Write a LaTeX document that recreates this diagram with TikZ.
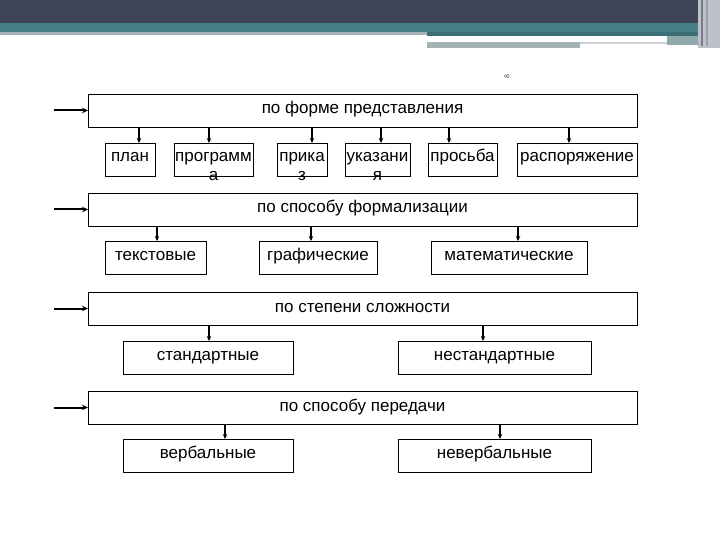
\documentclass[tikz,border=0pt]{standalone}
\usepackage{fontspec}
\setmainfont{Liberation Sans}
\usepackage{tikz}
\usetikzlibrary{arrows.meta, positioning, calc}
\definecolor{banddark}{RGB}{62, 69, 86}
\definecolor{bandteal}{RGB}{70, 129, 137}
\definecolor{bandline}{RGB}{163, 179, 182}
\definecolor{bandlight}{RGB}{190, 192, 202}

\newcommand{\wrapword}[2]{\begin{tabular}[t]{@{}c@{}}#1\\#2\end{tabular}}

\tikzset{
  headbox/.style={draw, line width=0.9pt, anchor=north west, inner sep=0pt, outer sep=0pt,
    minimum width=549pt, text height=20pt, text depth=13pt, font=\fontsize{17}{18.5}\selectfont},
  kindbox/.style={draw, line width=0.9pt, anchor=north west, inner sep=0pt, outer sep=0pt,
    text height=19pt, text depth=14.5pt, font=\fontsize{17}{18.5}\selectfont},
  feed/.style={line width=2pt, -{Stealth[length=6pt, width=5.5pt]}},
  drop/.style={line width=1.3pt, -{Stealth[length=5pt, width=4.5pt]}}
}

\begin{document}
\begin{tikzpicture}[x=1pt, y=-1pt]
  \useasboundingbox (0,0) rectangle (720,540);
  % Slide header band
  \fill[banddark] (0,0) rectangle (720,23);
  \fill[bandteal] (0,23) rectangle (720,32);
  \fill[bandline] (0,32) rectangle (427,35);
  \fill[bandteal!85!black] (427,32) rectangle (698,36);
  \fill[bandline] (427,42) rectangle (580,48);
  \fill[bandline!60] (580,42) rectangle (667,44);
  \fill[bandline!80!bandteal] (667,36) rectangle (698,45);
  \fill[bandlight] (698,0) rectangle (720,48);
  \fill[banddark!70] (701,0) rectangle (703,46);
  \fill[banddark!50] (706,0) rectangle (708,46);
  \node[rotate=90, font=\fontsize{7}{8}\selectfont, text=banddark] (slidenum) at (507,77) {8};

  % Form of presentation
  \node[headbox] (form) at (88,94) {по форме представления};
  \node[kindbox, minimum width=50pt] (plan) at (105,143) {план};
  \node[kindbox, minimum width=79pt] (prog) at (174,143) {\wrapword{программ}{а}};
  \node[kindbox, minimum width=50pt] (order) at (277,143) {\wrapword{прика}{з}};
  \node[kindbox, minimum width=65pt] (instr) at (345,143) {\wrapword{указани}{я}};
  \node[kindbox, minimum width=69pt] (plea) at (428,143) {просьба};
  \node[kindbox, minimum width=120pt] (decree) at (517,143) {распоряжение};

  % Way of formalisation
  \node[headbox] (formal) at (88,193) {по способу формализации};
  \node[kindbox, minimum width=101pt] (text) at (105,241) {текстовые};
  \node[kindbox, minimum width=118pt] (graph) at (259,241) {графические};
  \node[kindbox, minimum width=156pt] (math) at (431,241) {математические};

  % Degree of complexity
  \node[headbox] (level) at (88,292) {по степени сложности};
  \node[kindbox, minimum width=170pt] (std) at (123,341) {стандартные};
  \node[kindbox, minimum width=193pt] (nonstd) at (398,341) {нестандартные};

  % Way of transfer
  \node[headbox] (pass) at (88,391) {по способу передачи};
  \node[kindbox, minimum width=170pt] (verb) at (123,439) {вербальные};
  \node[kindbox, minimum width=193pt] (nonverb) at (398,439) {невербальные};

  \foreach \hd in {form, formal, level, pass}
    \draw[feed] ([xshift=-34pt]\hd.west) -- (\hd.west);

  \foreach \up/\lo/\ax in {form/plan/139, form/prog/209, form/order/312, form/instr/381,
      form/plea/449, form/decree/569, formal/text/157, formal/graph/311, formal/math/518,
      level/std/209, level/nonstd/483, pass/verb/225, pass/nonverb/500}
    \draw[drop] (\up.south -| \ax,0) -- (\lo.north -| \ax,0);
\end{tikzpicture}
\end{document}
